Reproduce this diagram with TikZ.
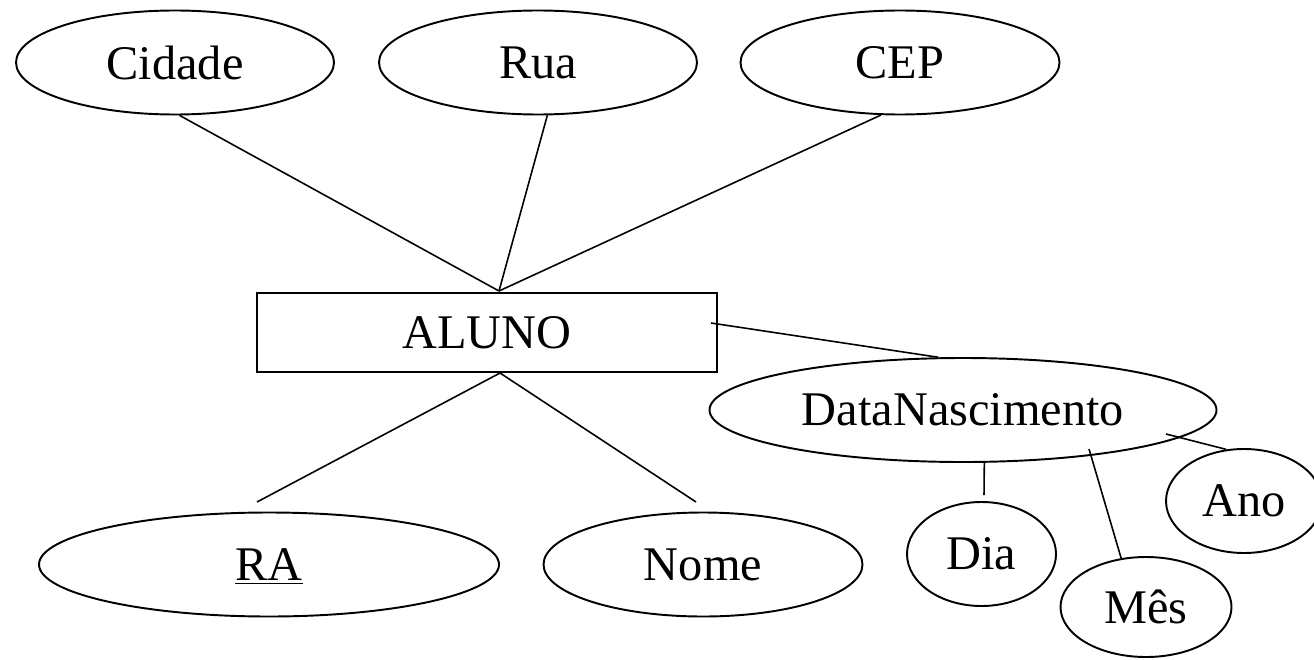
\documentclass[tikz,border=0pt]{standalone}
\usepackage{fontspec}
\setmainfont{Liberation Serif}
\usetikzlibrary{shapes.geometric}
\tikzset{
  atrib/.style={ellipse, draw, line width=1.1pt, inner sep=0pt, minimum height=2.08cm},
  entidade/.style={rectangle, draw, line width=1.3pt, inner sep=0pt},
  liga/.style={line width=0.9pt}
}
\begin{document}
\begin{tikzpicture}[font=\fontsize{27.5}{33}\selectfont]
  \useasboundingbox (0,0) rectangle (26.28,13.18);
  % entidade
  \node[entidade, minimum width=9.2cm, minimum height=1.58cm] (aluno) at (9.74,6.53) {ALUNO};
  % atributos
  \node[atrib, minimum width=6.36cm] (cidade) at (3.50,11.93) {Cidade};
  \node[atrib, minimum width=6.36cm] (rua) at (10.76,11.93) {Rua};
  \node[atrib, minimum width=6.38cm] (cep) at (18.00,11.93) {CEP};
  \node[atrib, minimum width=9.2cm, text depth=0pt] (ra) at (5.38,1.89) {\underline{RA}};
  \node[atrib, minimum width=6.38cm] (nome) at (14.06,1.89) {Nome};
  \node[atrib, minimum width=10.14cm] (data) at (19.26,4.98) {DataNascimento};
  \node[atrib, minimum width=2.98cm] (dia) at (19.63,2.10) {Dia};
  \node[atrib, minimum width=3.42cm, minimum height=2.0cm] (mes) at (22.92,1.04) {Mês};
  \node[atrib, minimum width=3.12cm] (ano) at (24.88,3.16) {Ano};
  % pontas soltas
  \coordinate (alunotop) at (9.98,7.36);
  \coordinate (alunobot) at (10.00,5.72);
  \coordinate (alunodir) at (14.22,6.72);
  \coordinate (rafim) at (5.14,3.14);
  \coordinate (nomefim) at (13.92,3.14);
  \coordinate (diafim) at (19.68,3.28);
  \coordinate (mesini) at (21.78,4.20);
  \coordinate (anoini) at (23.32,4.50);
  % ligacoes
  \draw[liga] (cidade.-85) -- (alunotop);
  \draw[liga] (rua.-80) -- (alunotop);
  \draw[liga] (cep.-110) -- (alunotop);
  \draw[liga] (alunobot) -- (rafim);
  \draw[liga] (alunobot) -- (nomefim);
  \draw[liga] (alunodir) -- (data.115);
  \draw[liga] (data.-68) -- (diafim);
  \draw[liga] (mesini) -- (mes.117);
  \draw[liga] (anoini) -- (ano.109);
\end{tikzpicture}
\end{document}
